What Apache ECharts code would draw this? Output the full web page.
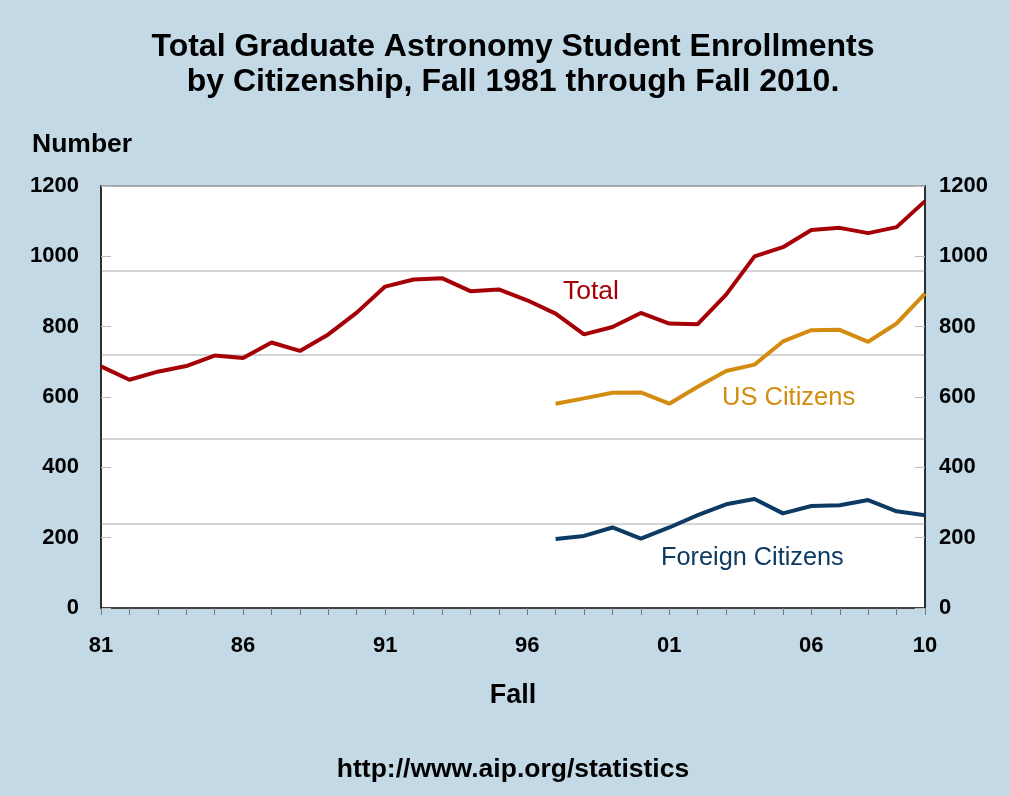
<!DOCTYPE html>
<html>
<head>
<meta charset="utf-8">
<script src="https://cdn.jsdelivr.net/npm/echarts@6/dist/echarts.min.js"></script>
<style>html,body{margin:0;padding:0;background:#C3DAE6;}#c{width:1010px;height:796px;}</style>
</head>
<body>
<div id="c"></div>
<script>
const years = [1981,1982,1983,1984,1985,1986,1987,1988,1989,1990,1991,1992,1993,1994,1995,1996,1997,1998,1999,2000,2001,2002,2003,2004,2005,2006,2007,2008,2009,2010];
const total = [687,649,672,688,718,711,755,731,778,840,914,934,938,901,906,875,837,778,799,839,809,807,891,1000,1026,1075,1081,1066,1083,1157];
const usCitizens = [null,null,null,null,null,null,null,null,null,null,null,null,null,null,null,null,581,596,612,613,581,629,674,692,758,790,791,757,809,894];
const foreignCitizens = [null,null,null,null,null,null,null,null,null,null,null,null,null,null,null,null,196,205,229,197,229,264,295,310,269,290,292,307,275,264];
const xTickLabels = {1981:'81',1986:'86',1991:'91',1996:'96',2001:'01',2006:'06',2010:'10'};
const yTicks = [0,200,400,600,800,1000,1200];

const pairs = arr => years.map((y,i) => [y, arr[i]]);
const font = '"Liberation Sans", Arial, sans-serif';

const chart = echarts.init(document.getElementById('c'));
chart.setOption({
  backgroundColor: '#C3DAE6',
  animation: false,
  graphic: [
    {type: 'text', x: 513, y: 47, style: {text: 'Total Graduate Astronomy Student Enrollments', font: 'bold 32px ' + font, fill: '#000', align: 'center', verticalAlign: 'middle'}},
    {type: 'text', x: 513, y: 82, style: {text: 'by Citizenship, Fall 1981 through Fall 2010.', font: 'bold 32px ' + font, fill: '#000', align: 'center', verticalAlign: 'middle'}},
    {type: 'text', left: 32, top: 131, style: {text: 'Number', font: 'bold 26.5px ' + font, fill: '#000'}},
    {type: 'text', x: 513, y: 770, style: {text: 'http://www.aip.org/statistics', font: 'bold 26.5px ' + font, fill: '#000', align: 'center', verticalAlign: 'middle'}},
    {type: 'text', x: 563, y: 292, style: {text: 'Total', font: '26.5px ' + font, fill: '#A50005', verticalAlign: 'middle'}},
    {type: 'text', x: 722, y: 398, style: {text: 'US Citizens', font: '25.5px ' + font, fill: '#D48C10', verticalAlign: 'middle'}},
    {type: 'text', x: 661, y: 558, style: {text: 'Foreign Citizens', font: '25.3px ' + font, fill: '#0D3A62', verticalAlign: 'middle'}}
  ],
  grid: {left: 101, right: 85, top: 186, bottom: 188, show: true, backgroundColor: '#fff', borderColor: '#222', borderWidth: 1.5},
  xAxis: {
    type: 'value', min: 1981, max: 2010, interval: 1,
    name: 'Fall', nameLocation: 'middle', nameGap: 74,
    nameTextStyle: {fontFamily: font, fontSize: 27, fontWeight: 'bold', color: '#000'},
    axisLine: {show: true, lineStyle: {color: '#222', width: 1.5}},
    axisTick: {show: true, length: 7, lineStyle: {color: '#777'}},
    splitLine: {show: false},
    axisLabel: {
      margin: 27, fontFamily: font, fontSize: 22, fontWeight: 'bold', color: '#000',
      formatter: v => xTickLabels[v] || ''
    }
  },
  yAxis: [
    {type: 'value', min: yTicks[0], max: yTicks[yTicks.length-1], interval: 200, position: 'left',
     axisLine: {show: true, lineStyle: {color: '#222', width: 1.5}},
     axisTick: {show: true, inside: true, length: 10, lineStyle: {color: '#bbb'}},
     splitLine: {show: false},
     axisLabel: {margin: 22, fontFamily: font, fontSize: 22, fontWeight: 'bold', color: '#000', formatter: v => String(v)}},
    {type: 'value', min: yTicks[0], max: yTicks[yTicks.length-1], interval: 200, position: 'right',
     axisLine: {show: true, lineStyle: {color: '#222', width: 1.5}},
     axisTick: {show: true, inside: true, length: 10, lineStyle: {color: '#bbb'}},
     splitLine: {show: false},
     axisLabel: {margin: 14, fontFamily: font, fontSize: 22, fontWeight: 'bold', color: '#000', formatter: v => String(v)}},
    {type: 'value', min: 0, max: 1200, interval: 240, position: 'right',
     axisLine: {show: false}, axisTick: {show: false}, axisLabel: {show: false},
     splitLine: {show: true, lineStyle: {color: '#c4c4c4', width: 1.5}}}
  ],
  series: [
    {type: 'line', name: 'Total', data: pairs(total), showSymbol: false, lineStyle: {color: '#A50005', width: 4}, z: 3},
    {type: 'line', name: 'US Citizens', data: pairs(usCitizens), showSymbol: false, lineStyle: {color: '#D48C10', width: 4}, z: 3},
    {type: 'line', name: 'Foreign Citizens', data: pairs(foreignCitizens), showSymbol: false, lineStyle: {color: '#0D3A62', width: 4}, z: 3}
  ]
});
</script>
</body>
</html>
